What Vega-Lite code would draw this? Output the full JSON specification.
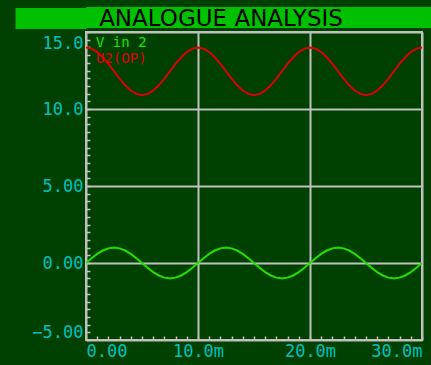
{
  "$schema": "https://vega.github.io/schema/vega-lite/v6.json",
  "background": "#004000",
  "padding": {"left": 0, "top": 7, "right": 0, "bottom": 0},
  "columns": 1,
  "spacing": -2,
  "config": {"view": {"stroke": null}},
  "concat": [
    {
      "width": 346,
      "height": 21,
      "view": {"fill": "#00c000", "stroke": null},
      "data": {"values": [{"title": "ANALOGUE ANALYSIS"}]},
      "mark": {"type": "text", "font": "DejaVu Sans", "fontSize": 23, "color": "#000000", "align": "center", "baseline": "middle", "dx": -38, "dy": 1},
      "encoding": {
        "text": {"field": "title"},
        "y": {"datum": 0.5, "type": "quantitative",
          "scale": {"domain": [0, 1]},
          "axis": {"title": null, "values": [0.5], "labels": false, "domain": false, "grid": false,
            "tickSize": 71, "tickWidth": 21, "tickColor": "#00c000", "tickCap": "butt", "minExtent": 0}}
      }
    },
    {
      "width": 336,
      "height": 308,
      "view": {"fill": "#004000", "stroke": "#c0c0c0", "strokeWidth": 2},
      "layer": [
        {
          "data": {"values": [
            {"t": 0, "V in 2": 0, "U2(OP)": 14.0},
            {"t": 0.5, "V in 2": 0.31, "U2(OP)": 13.92},
            {"t": 1, "V in 2": 0.59, "U2(OP)": 13.7},
            {"t": 1.5, "V in 2": 0.81, "U2(OP)": 13.36},
            {"t": 2, "V in 2": 0.95, "U2(OP)": 12.93},
            {"t": 2.5, "V in 2": 1.0, "U2(OP)": 12.45},
            {"t": 3, "V in 2": 0.95, "U2(OP)": 11.97},
            {"t": 3.5, "V in 2": 0.81, "U2(OP)": 11.54},
            {"t": 4, "V in 2": 0.59, "U2(OP)": 11.2},
            {"t": 4.5, "V in 2": 0.31, "U2(OP)": 10.98},
            {"t": 5, "V in 2": 0, "U2(OP)": 10.9},
            {"t": 5.5, "V in 2": -0.31, "U2(OP)": 10.98},
            {"t": 6, "V in 2": -0.59, "U2(OP)": 11.2},
            {"t": 6.5, "V in 2": -0.81, "U2(OP)": 11.54},
            {"t": 7, "V in 2": -0.95, "U2(OP)": 11.97},
            {"t": 7.5, "V in 2": -1.0, "U2(OP)": 12.45},
            {"t": 8, "V in 2": -0.95, "U2(OP)": 12.93},
            {"t": 8.5, "V in 2": -0.81, "U2(OP)": 13.36},
            {"t": 9, "V in 2": -0.59, "U2(OP)": 13.7},
            {"t": 9.5, "V in 2": -0.31, "U2(OP)": 13.92},
            {"t": 10, "V in 2": 0, "U2(OP)": 14.0},
            {"t": 10.5, "V in 2": 0.31, "U2(OP)": 13.92},
            {"t": 11, "V in 2": 0.59, "U2(OP)": 13.7},
            {"t": 11.5, "V in 2": 0.81, "U2(OP)": 13.36},
            {"t": 12, "V in 2": 0.95, "U2(OP)": 12.93},
            {"t": 12.5, "V in 2": 1.0, "U2(OP)": 12.45},
            {"t": 13, "V in 2": 0.95, "U2(OP)": 11.97},
            {"t": 13.5, "V in 2": 0.81, "U2(OP)": 11.54},
            {"t": 14, "V in 2": 0.59, "U2(OP)": 11.2},
            {"t": 14.5, "V in 2": 0.31, "U2(OP)": 10.98},
            {"t": 15, "V in 2": 0, "U2(OP)": 10.9},
            {"t": 15.5, "V in 2": -0.31, "U2(OP)": 10.98},
            {"t": 16, "V in 2": -0.59, "U2(OP)": 11.2},
            {"t": 16.5, "V in 2": -0.81, "U2(OP)": 11.54},
            {"t": 17, "V in 2": -0.95, "U2(OP)": 11.97},
            {"t": 17.5, "V in 2": -1.0, "U2(OP)": 12.45},
            {"t": 18, "V in 2": -0.95, "U2(OP)": 12.93},
            {"t": 18.5, "V in 2": -0.81, "U2(OP)": 13.36},
            {"t": 19, "V in 2": -0.59, "U2(OP)": 13.7},
            {"t": 19.5, "V in 2": -0.31, "U2(OP)": 13.92},
            {"t": 20, "V in 2": 0, "U2(OP)": 14.0},
            {"t": 20.5, "V in 2": 0.31, "U2(OP)": 13.92},
            {"t": 21, "V in 2": 0.59, "U2(OP)": 13.7},
            {"t": 21.5, "V in 2": 0.81, "U2(OP)": 13.36},
            {"t": 22, "V in 2": 0.95, "U2(OP)": 12.93},
            {"t": 22.5, "V in 2": 1.0, "U2(OP)": 12.45},
            {"t": 23, "V in 2": 0.95, "U2(OP)": 11.97},
            {"t": 23.5, "V in 2": 0.81, "U2(OP)": 11.54},
            {"t": 24, "V in 2": 0.59, "U2(OP)": 11.2},
            {"t": 24.5, "V in 2": 0.31, "U2(OP)": 10.98},
            {"t": 25, "V in 2": 0, "U2(OP)": 10.9},
            {"t": 25.5, "V in 2": -0.31, "U2(OP)": 10.98},
            {"t": 26, "V in 2": -0.59, "U2(OP)": 11.2},
            {"t": 26.5, "V in 2": -0.81, "U2(OP)": 11.54},
            {"t": 27, "V in 2": -0.95, "U2(OP)": 11.97},
            {"t": 27.5, "V in 2": -1.0, "U2(OP)": 12.45},
            {"t": 28, "V in 2": -0.95, "U2(OP)": 12.93},
            {"t": 28.5, "V in 2": -0.81, "U2(OP)": 13.36},
            {"t": 29, "V in 2": -0.59, "U2(OP)": 13.7},
            {"t": 29.5, "V in 2": -0.31, "U2(OP)": 13.92},
            {"t": 30, "V in 2": 0, "U2(OP)": 14.0}
          ]},
          "transform": [{"fold": ["V in 2", "U2(OP)"], "as": ["series", "value"]}],
          "mark": {"type": "line", "strokeWidth": 2, "clip": true},
          "encoding": {
            "x": {
              "field": "t", "type": "quantitative",
              "scale": {"domain": [0, 30], "nice": false},
              "axis": {
                "title": null,
                "values": [0,1,2,3,4,5,6,7,8,9,10,11,12,13,14,15,16,17,18,19,20,21,22,23,24,25,26,27,28,29,30],
                "tickCount": 200,
                "domain": false,
                "grid": true,
                "gridColor": "#c0c0c0",
                "gridWidth": 2,
                "gridOpacity": {"condition": {"test": "datum.value % 10 === 0", "value": 1}, "value": 0},
                "tickSize": -4,
                "tickColor": "#c0c0c0",
                "tickWidth": 1.5,
                "labelExpr": "datum.value === 0 ? '0.00' : (datum.value % 10 === 0 ? format(datum.value, '.1f') + 'm' : '')",
                "labelFlush": true,
                "labelOverlap": false,
                "labelFont": "DejaVu Sans Mono",
                "labelFontSize": 17,
                "labelColor": "#00c0c0",
                "labelPadding": 7,
                "minExtent": 32
              }
            },
            "y": {
              "field": "value", "type": "quantitative",
              "scale": {"domain": [-5, 15], "nice": false, "zero": false},
              "axis": {
                "title": null,
                "values": [-5,-4.5,-4,-3.5,-3,-2.5,-2,-1.5,-1,-0.5,0,0.5,1,1.5,2,2.5,3,3.5,4,4.5,5,5.5,6,6.5,7,7.5,8,8.5,9,9.5,10,10.5,11,11.5,12,12.5,13,13.5,14,14.5,15],
                "tickCount": 200,
                "domain": false,
                "grid": true,
                "gridColor": "#c0c0c0",
                "gridWidth": 2,
                "gridOpacity": {"condition": {"test": "datum.value % 5 === 0", "value": 1}, "value": 0},
                "tickSize": -4,
                "tickColor": "#c0c0c0",
                "tickWidth": 1.5,
                "labelExpr": "datum.value % 5 !== 0 ? '' : (datum.value === 15 ? '15.0' : (datum.value === 10 ? '10.0' : format(datum.value, '.2f')))",
                "labelFlush": false,
                "labelOffset": {"condition": [{"test": "datum.value === 15", "value": 11}, {"test": "datum.value === -5", "value": -8}], "value": 0},
                "labelOverlap": false,
                "labelFont": "DejaVu Sans Mono",
                "labelFontSize": 17,
                "labelColor": "#00c0c0",
                "labelPadding": 7,
                "minExtent": 85
              }
            },
            "color": {
              "field": "series", "type": "nominal",
              "scale": {"domain": ["V in 2", "U2(OP)"], "range": ["#20e000", "#e00000"]},
              "legend": null
            }
          }
        },
        {
          "data": {"values": [{"label": "V in 2"}]},
          "mark": {"type": "text", "align": "left", "baseline": "middle", "dx": 10, "dy": 11, "font": "DejaVu Sans Mono", "fontSize": 14, "color": "#20e000"},
          "encoding": {
            "x": {"datum": 0, "type": "quantitative"},
            "y": {"datum": 15, "type": "quantitative"},
            "text": {"field": "label"}
          }
        },
        {
          "data": {"values": [{"label": "U2(OP)"}]},
          "mark": {"type": "text", "align": "left", "baseline": "middle", "dx": 10, "dy": 27, "font": "DejaVu Sans Mono", "fontSize": 14, "color": "#e00000"},
          "encoding": {
            "x": {"datum": 0, "type": "quantitative"},
            "y": {"datum": 15, "type": "quantitative"},
            "text": {"field": "label"}
          }
        }
      ]
    }
  ]
}
